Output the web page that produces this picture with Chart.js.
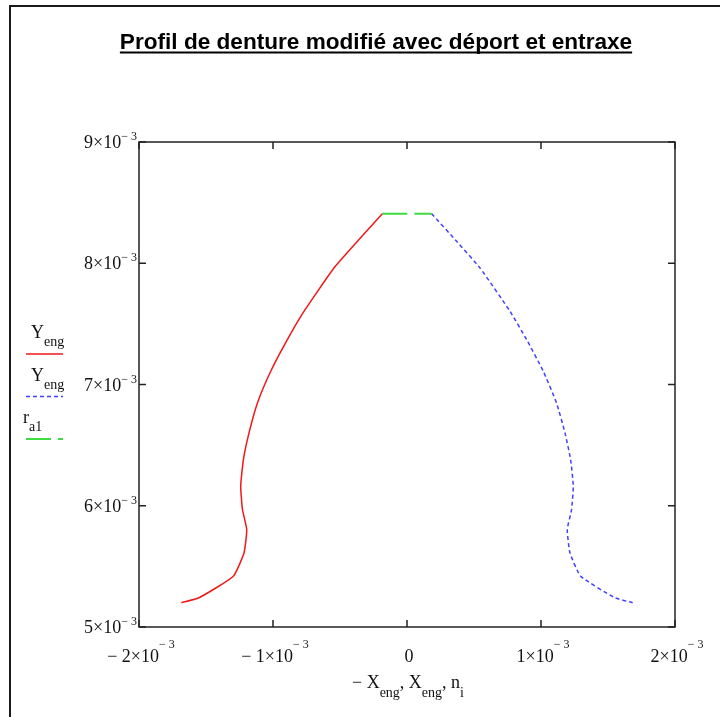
<!DOCTYPE html>
<html>
<head>
<meta charset="utf-8">
<script src="https://cdn.jsdelivr.net/npm/chart.js@4"></script>
<style>
  html, body { margin: 0; padding: 0; background: #ffffff; }
  canvas { display: block; }
</style>
</head>
<body>
<canvas id="profil" width="720" height="717"></canvas>
<script>
// half profile (metres), left flank is -xEng
const xEng = [0.000184, 0.000370, 0.000545, 0.000769, 0.000893, 0.001017, 0.001116, 0.001179,
  0.001221, 0.001241, 0.001228, 0.001196, 0.001216, 0.001296, 0.001552, 0.001684];
const yEng = [0.008409, 0.008181, 0.007961, 0.007603, 0.007370, 0.007109, 0.006848, 0.006601,
  0.006381, 0.006161, 0.005969, 0.005804, 0.005612, 0.005419, 0.005241, 0.005200];
// tip circle r_a1 against n_i
const nI = [-0.000184, 0.000184];
const rA1 = [0.008409, 0.008409];

const xTickValues = [-0.002, -0.001, 0, 0.001, 0.002];
const xTickMain = ['\u2212 2\u00d710', '\u2212 1\u00d710', '0', '1\u00d710', '2\u00d710'];
const xTickExp = ['\u2212 3', '\u2212 3', '', '\u2212 3', '\u2212 3'];
const yTickValues = [0.005, 0.006, 0.007, 0.008, 0.009];
const yTickMain = ['5\u00d710', '6\u00d710', '7\u00d710', '8\u00d710', '9\u00d710'];
const yTickExp = ['\u2212 3', '\u2212 3', '\u2212 3', '\u2212 3', '\u2212 3'];

const titleText = 'Profil de denture modifié avec déport et entraxe';
const legendMain = ['Y', 'Y', 'r'];
const legendSub = ['eng', 'eng', 'a1'];
const axisTitleParts = [['\u2212 X', 'eng'], [', X', 'eng'], [', n', 'i']];

const SERIF = '"Liberation Serif", "Times New Roman", serif';

const leftFlank = xEng.map((v, i) => ({ x: -v, y: yEng[i] }));
const rightFlank = xEng.map((v, i) => ({ x: v, y: yEng[i] }));
const tipLine = nI.map((v, i) => ({ x: v, y: rA1[i] }));

const drawSup = (ctx, main, exp, x, y, align, supDy) => {
  ctx.font = '18px ' + SERIF;
  const wMain = ctx.measureText(main).width;
  ctx.font = '12px ' + SERIF;
  const wExp = exp ? ctx.measureText(exp).width : 0;
  const total = wMain + wExp;
  const left = align === 'right' ? x - total : x - total / 2;
  ctx.textAlign = 'left';
  ctx.textBaseline = 'alphabetic';
  ctx.font = '18px ' + SERIF;
  ctx.fillText(main, left, y);
  if (exp) {
    ctx.font = '12px ' + SERIF;
    ctx.fillText(exp, left + wMain, y + supDy);
  }
};

const decorations = {
  id: 'decorations',
  beforeDraw(chart) {
    const ctx = chart.ctx;
    ctx.save();
    ctx.fillStyle = '#ffffff';
    ctx.fillRect(0, 0, chart.width, chart.height);
    // page frame
    ctx.strokeStyle = '#1a1a1a';
    ctx.lineWidth = 2;
    ctx.beginPath();
    ctx.moveTo(10, chart.height);
    ctx.lineTo(10, 6);
    ctx.lineTo(chart.width, 6);
    ctx.stroke();
    ctx.restore();
  },
  afterDraw(chart) {
    const ctx = chart.ctx;
    const area = chart.chartArea;
    const xs = chart.scales.x;
    const ys = chart.scales.y;
    ctx.save();

    // plot box and inner ticks
    ctx.strokeStyle = '#222222';
    ctx.lineWidth = 1.5;
    ctx.strokeRect(area.left, area.top, area.right - area.left, area.bottom - area.top);
    ctx.beginPath();
    xTickValues.forEach((v) => {
      const px = xs.getPixelForValue(v);
      ctx.moveTo(px, area.bottom);
      ctx.lineTo(px, area.bottom - 7);
      ctx.moveTo(px, area.top);
      ctx.lineTo(px, area.top + 7);
    });
    yTickValues.forEach((v) => {
      const py = ys.getPixelForValue(v);
      ctx.moveTo(area.left, py);
      ctx.lineTo(area.left + 7, py);
      ctx.moveTo(area.right, py);
      ctx.lineTo(area.right - 7, py);
    });
    ctx.stroke();

    // tick labels
    ctx.fillStyle = '#111111';
    xTickValues.forEach((v, i) => {
      drawSup(ctx, xTickMain[i], xTickExp[i], xs.getPixelForValue(v) + 2, area.bottom + 35, 'center', -14);
    });
    yTickValues.forEach((v, i) => {
      drawSup(ctx, yTickMain[i], yTickExp[i], area.left - 2, ys.getPixelForValue(v) + 6, 'right', -8);
    });

    // x axis title
    let cx = 352;
    axisTitleParts.forEach(([main, sub]) => {
      ctx.font = '18px ' + SERIF;
      ctx.fillText(main, cx, 688);
      cx += ctx.measureText(main).width;
      ctx.font = '14px ' + SERIF;
      ctx.fillText(sub, cx, 697);
      cx += ctx.measureText(sub).width;
    });

    // legend
    const legendX = [31, 31, 23];
    chart.data.datasets.forEach((ds, i) => {
      const lineY = 354 + i * 42.5;
      ctx.fillStyle = '#111111';
      ctx.font = '18px ' + SERIF;
      ctx.fillText(legendMain[i], legendX[i], lineY - 16);
      const w = ctx.measureText(legendMain[i]).width;
      ctx.font = '14px ' + SERIF;
      ctx.fillText(legendSub[i], legendX[i] + w, lineY - 8);
      ctx.strokeStyle = ds.borderColor;
      ctx.lineWidth = ds.borderWidth;
      ctx.setLineDash(ds.borderDash || []);
      ctx.beginPath();
      ctx.moveTo(26, lineY);
      ctx.lineTo(63, lineY);
      ctx.stroke();
      ctx.setLineDash([]);
    });

    // title
    ctx.fillStyle = '#000000';
    ctx.font = 'bold 22.6px "Liberation Sans", Arial, sans-serif';
    ctx.textAlign = 'center';
    ctx.fillText(titleText, 376, 49);
    const tw = ctx.measureText(titleText).width;
    ctx.fillRect(376 - tw / 2, 51.5, tw, 2);

    ctx.restore();
  }
};

const ctx = document.getElementById('profil').getContext('2d');

new Chart(ctx, {
  type: 'scatter',
  data: {
    datasets: [
      {
        label: 'Y eng',
        data: leftFlank,
        showLine: true,
        borderColor: '#f01818',
        borderWidth: 1.5,
        pointRadius: 0,
        tension: 0.15
      },
      {
        label: 'Y eng',
        data: rightFlank,
        showLine: true,
        borderColor: '#4040ff',
        borderWidth: 1.5,
        borderDash: [4, 3],
        pointRadius: 0,
        tension: 0.15
      },
      {
        label: 'r a1',
        data: tipLine,
        showLine: true,
        borderColor: '#3fdc3f',
        borderWidth: 2,
        borderDash: [25, 7],
        pointRadius: 0,
        tension: 0
      }
    ]
  },
  options: {
    responsive: false,
    animation: false,
    layout: { padding: { left: 139, top: 142, right: 45, bottom: 90 } },
    scales: {
      x: { type: 'linear', display: false, min: -0.002, max: 0.002 },
      y: { type: 'linear', display: false, min: 0.005, max: 0.009 }
    },
    plugins: {
      legend: { display: false },
      title: { display: false },
      tooltip: { enabled: false }
    }
  },
  plugins: [decorations]
});
</script>
</body>
</html>
